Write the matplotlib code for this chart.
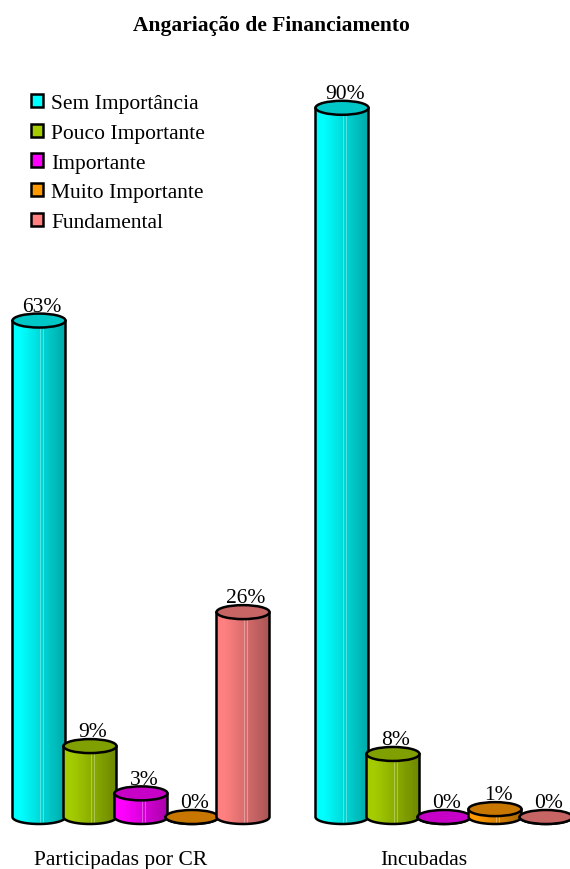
import numpy as np
import matplotlib
matplotlib.use("Agg")
import matplotlib.pyplot as plt
from matplotlib.patches import Ellipse, Rectangle, PathPatch, Patch
from matplotlib.path import Path
from matplotlib.colors import to_rgb

# ---- data -----------------------------------------------------------------
categories = ["Participadas por CR", "Incubadas"]
series_names = ["Sem Importância", "Pouco Importante", "Importante",
                "Muito Importante", "Fundamental"]
sem_importancia = [63, 90]
pouco_importante = [9, 8]
importante = [3, 0]
muito_importante = [0, 1]
fundamental = [26, 0]
series_values = [sem_importancia, pouco_importante, importante,
                 muito_importante, fundamental]
series_colors = ["#00FFFF", "#A4CC00", "#FF00FF", "#FF9900", "#FF8080"]

# ---- geometry -------------------------------------------------------------
W_PX, H_PX = 570, 870
PX_PER_GROUP = 303.0        # horizontal distance between category groups
PX_PER_PCT = 7.88           # vertical pixels per percentage point
BASE_PX = 818               # baseline (0 %) measured from the top
GROUP0_PX = 141             # centre of the first group

bar_step = 51 / PX_PER_GROUP
bar_width = 53 / PX_PER_GROUP
ell_half = 7.0 / PX_PER_PCT

FONT = "Liberation Serif"
FS = 15.5

fig = plt.figure(figsize=(W_PX / 100, H_PX / 100), dpi=100)
ax = fig.add_axes([0, 0, 1, 1])
ax.set_xlim(-GROUP0_PX / PX_PER_GROUP, (W_PX - GROUP0_PX) / PX_PER_GROUP)
ax.set_ylim(-(H_PX - BASE_PX) / PX_PER_PCT, BASE_PX / PX_PER_PCT)
ax.axis("off")


def shade(t):
    """Brightness factor across the cylinder body (0 = left, 1 = right)."""
    return 1.0 - 0.34 * max(0.0, t - 0.15) / 0.85


def cylinder(xc, h, color, z):
    x0, x1 = xc - bar_width / 2, xc + bar_width / 2
    th = np.linspace(np.pi, 2 * np.pi, 80)
    arc = np.column_stack([xc + bar_width / 2 * np.cos(th), ell_half * np.sin(th)])
    verts = np.vstack([[x0, h], arc, [x1, h], [x0, h]])
    codes = [Path.MOVETO] + [Path.LINETO] * (len(verts) - 2) + [Path.CLOSEPOLY]
    path = Path(verts, codes)
    clip = PathPatch(path, fc="none", ec="none", zorder=z)
    ax.add_patch(clip)

    base = np.array(to_rgb(color))
    n = 60
    edges = np.linspace(x0, x1, n + 1)
    for i in range(n):
        t = (i + 0.5) / n
        rgb = np.clip(base * shade(t), 0, 1)
        r = Rectangle((edges[i], -ell_half * 1.2), (edges[1] - edges[0]) * 1.3,
                      h + ell_half * 1.4, fc=rgb, ec="none", lw=0, zorder=z)
        ax.add_patch(r)
        r.set_clip_path(clip)
    # thin pale streaks on the body
    for t in (0.08, 0.52, 0.58, 0.68, 0.74):
        xs = x0 + t * bar_width
        rgb = np.clip(base * shade(t) * 0.6 + 0.4, 0, 1)
        r = Rectangle((xs, -ell_half * 1.2), bar_width * 0.012, h + ell_half * 1.4,
                      fc=rgb, ec="none", lw=0, alpha=0.8, zorder=z)
        ax.add_patch(r)
        r.set_clip_path(clip)

    ax.add_patch(PathPatch(path, fc="none", ec="black", lw=1.8, zorder=z + 0.1,
                           joinstyle="round"))
    ax.add_patch(Ellipse((xc, h), bar_width, 2 * ell_half,
                         fc=np.clip(base * 0.78, 0, 1), ec="black", lw=1.8,
                         zorder=z + 0.2))


z = 2
for g in range(len(categories)):
    for s, (vals, col) in enumerate(zip(series_values, series_colors)):
        xc = g + (s - 2) * bar_step
        v = vals[g]
        cylinder(xc, v, col, z)
        ax.annotate(f"{v}%", xy=(xc, v), xytext=(2.2, 7.0),
                    textcoords="offset points", ha="center", va="baseline",
                    fontsize=FS, family=FONT, zorder=50)
        z += 1

# category labels
for g, name in enumerate(categories):
    ax.text(g - 0.066, -(865 - BASE_PX) / PX_PER_PCT, name, ha="center",
            va="baseline", fontsize=FS, family=FONT)

# title
fig.text(271.5 / W_PX, 1 - 31 / H_PX, "Angariação de Financiamento",
         ha="center", va="baseline", fontsize=FS, family=FONT, fontweight="bold")

# legend
handles = [Patch(facecolor=c, edgecolor="black", linewidth=1.8)
           for c in series_colors]
leg = ax.legend(handles, series_names, loc="upper left",
                bbox_to_anchor=(31 / W_PX, 1 - 95 / H_PX),
                bbox_transform=fig.transFigure, frameon=False,
                prop={"family": FONT, "size": FS},
                handlelength=0.58, handleheight=0.58, handletextpad=0.35,
                labelspacing=0.48, borderpad=0, borderaxespad=0)

fig.savefig("out.png", dpi=100)
